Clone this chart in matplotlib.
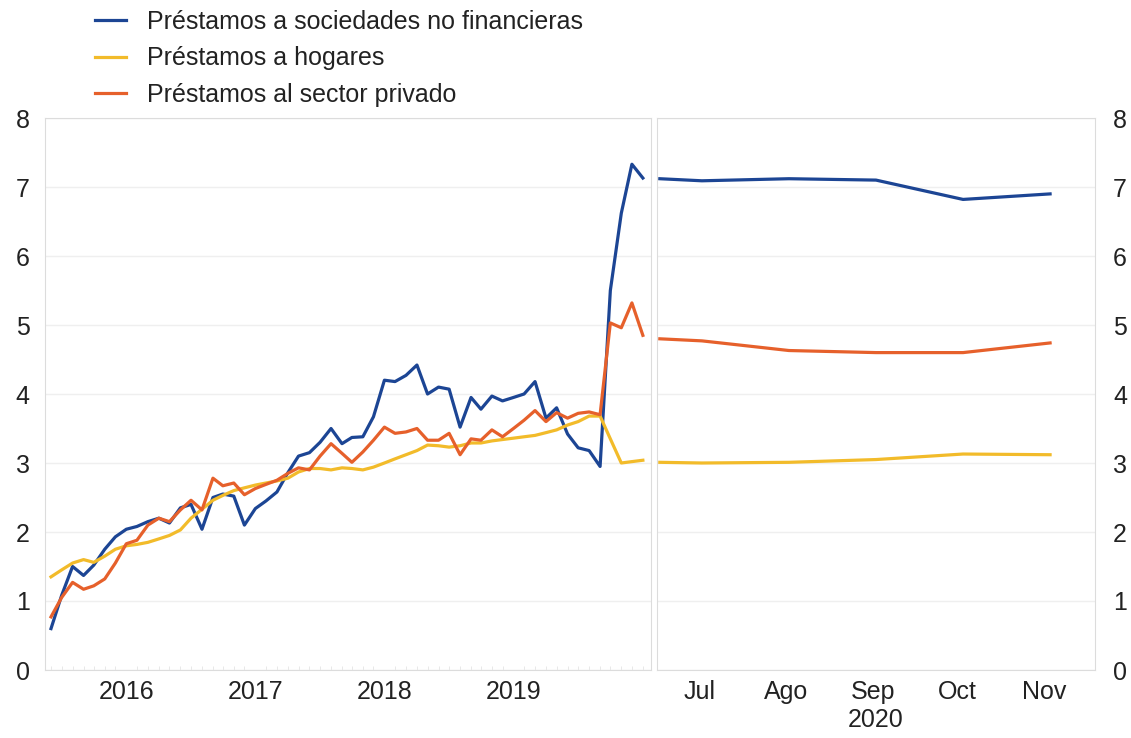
import numpy as np
import pandas as pd
import matplotlib
matplotlib.use("Agg")
import matplotlib.pyplot as plt
import matplotlib.dates as mdates
from matplotlib.lines import Line2D

plt.rcParams['font.family'] = ['Liberation Sans', 'DejaVu Sans']

# monthly data, Nov 2015 - Jun 2020
months = pd.date_range('2015-11-01', periods=56, freq='MS')
nfc = [0.6, 1.08, 1.5, 1.37, 1.52, 1.75, 1.93, 2.04, 2.08, 2.15, 2.2, 2.13, 2.35, 2.4,
       2.04, 2.5, 2.55, 2.52, 2.1, 2.34, 2.45, 2.58, 2.86, 3.1, 3.15, 3.3, 3.5, 3.28,
       3.37, 3.38, 3.67, 4.2, 4.18, 4.27, 4.42, 4.0, 4.1, 4.07, 3.52, 3.95, 3.78, 3.97,
       3.9, 3.95, 4.0, 4.18, 3.65, 3.8, 3.42, 3.22, 3.18, 2.95, 5.5, 6.62, 7.33, 7.13]
hh = [1.35, 1.45, 1.55, 1.6, 1.56, 1.65, 1.75, 1.8, 1.82, 1.85, 1.9, 1.95, 2.03, 2.2,
      2.33, 2.46, 2.53, 2.6, 2.64, 2.68, 2.71, 2.74, 2.78, 2.87, 2.92, 2.92, 2.9, 2.93,
      2.92, 2.9, 2.94, 3.0, 3.06, 3.12, 3.18, 3.26, 3.25, 3.23, 3.25, 3.29, 3.29, 3.32,
      3.34, 3.36, 3.38, 3.4, 3.44, 3.48, 3.55, 3.6, 3.68, 3.68, 3.35, 3.0, 3.02, 3.04]
priv = [0.77, 1.05, 1.27, 1.17, 1.22, 1.32, 1.55, 1.83, 1.88, 2.1, 2.2, 2.15, 2.32, 2.46,
        2.32, 2.78, 2.67, 2.71, 2.54, 2.63, 2.69, 2.75, 2.85, 2.93, 2.9, 3.1, 3.28, 3.14,
        3.01, 3.16, 3.33, 3.52, 3.43, 3.45, 3.5, 3.33, 3.33, 3.43, 3.12, 3.35, 3.33, 3.48,
        3.38, 3.5, 3.62, 3.76, 3.6, 3.73, 3.65, 3.72, 3.74, 3.7, 5.03, 4.96, 5.32, 4.85]

# second panel, Jul - Nov 2020
dates2 = pd.to_datetime(['2020-07-01', '2020-07-16', '2020-08-16', '2020-09-16',
                         '2020-10-17', '2020-11-17'])
nfc2 = [7.12, 7.09, 7.12, 7.1, 6.82, 6.9]
hh2 = [3.01, 3.0, 3.01, 3.05, 3.13, 3.12]
priv2 = [4.8, 4.77, 4.63, 4.6, 4.6, 4.74]
month_labels = ['Jul', 'Ago', 'Sep', 'Oct', 'Nov']
month_ticks = pd.to_datetime(['2020-07-15', '2020-08-15', '2020-09-15', '2020-10-15', '2020-11-15'])
years = [2016, 2017, 2018, 2019]

labels = ['Préstamos a sociedades no financieras', 'Préstamos a hogares',
          'Préstamos al sector privado']
colors = ['#1c4594', '#f2bb2a', '#e6602b']

fs = 18
txt = '#222222'

fig = plt.figure(figsize=(11.31, 7.38), dpi=100)
ax1 = fig.add_axes([45 / 1131, 1 - 670 / 738, 606 / 1131, 552 / 738])
ax2 = fig.add_axes([657 / 1131, 1 - 670 / 738, 438 / 1131, 552 / 738])

lw = 2.3
for ser, c in zip([nfc, hh, priv], colors):
    ax1.plot(months, ser, color=c, lw=lw)
for ser, c in zip([nfc2, hh2, priv2], colors):
    ax2.plot(dates2, ser, color=c, lw=lw)

for ax in (ax1, ax2):
    ax.set_ylim(0, 8)
    ax.set_yticks(range(0, 9))
    ax.grid(axis='y', color='#efefef', lw=1)
    ax.set_axisbelow(True)
    for s in ax.spines.values():
        s.set_color('#dcdcdc')
    ax.tick_params(axis='y', length=0, labelsize=fs, colors=txt, pad=11)
    ax.tick_params(axis='x', which='major', length=0, labelsize=fs, colors=txt, pad=7)

ax1.set_xlim(pd.Timestamp('2015-10-15'), pd.Timestamp('2020-06-24'))
ax1.set_xticks([pd.Timestamp(f'{y}-06-01') for y in years])
ax1.set_xticklabels([str(y) for y in years])
ax1.xaxis.set_minor_locator(mdates.MonthLocator())
ax1.tick_params(axis='x', which='minor', length=3, direction='in', color='#e4e4e4')

ax2.set_xlim(pd.Timestamp('2020-06-30'), pd.Timestamp('2020-12-03'))
ax2.set_xticks(month_ticks)
ax2.set_xticklabels(month_labels)
ax2.yaxis.tick_right()
ax2.tick_params(axis='y', pad=13)
ax2.annotate('2020', xy=(pd.Timestamp('2020-09-16'), 0), xycoords=('data', 'axes fraction'),
             xytext=(0, -36), textcoords='offset points', ha='center', va='center',
             fontsize=fs, color=txt)

handles = [Line2D([], [], color=c, lw=lw) for c in colors]
fig.legend(handles, labels, loc='upper left', bbox_to_anchor=(0.064, 1.017), frameon=False,
           fontsize=fs, handlelength=1.25, handletextpad=0.85, labelspacing=0.5,
           labelcolor=txt)

fig.savefig('out.png', dpi=100)
